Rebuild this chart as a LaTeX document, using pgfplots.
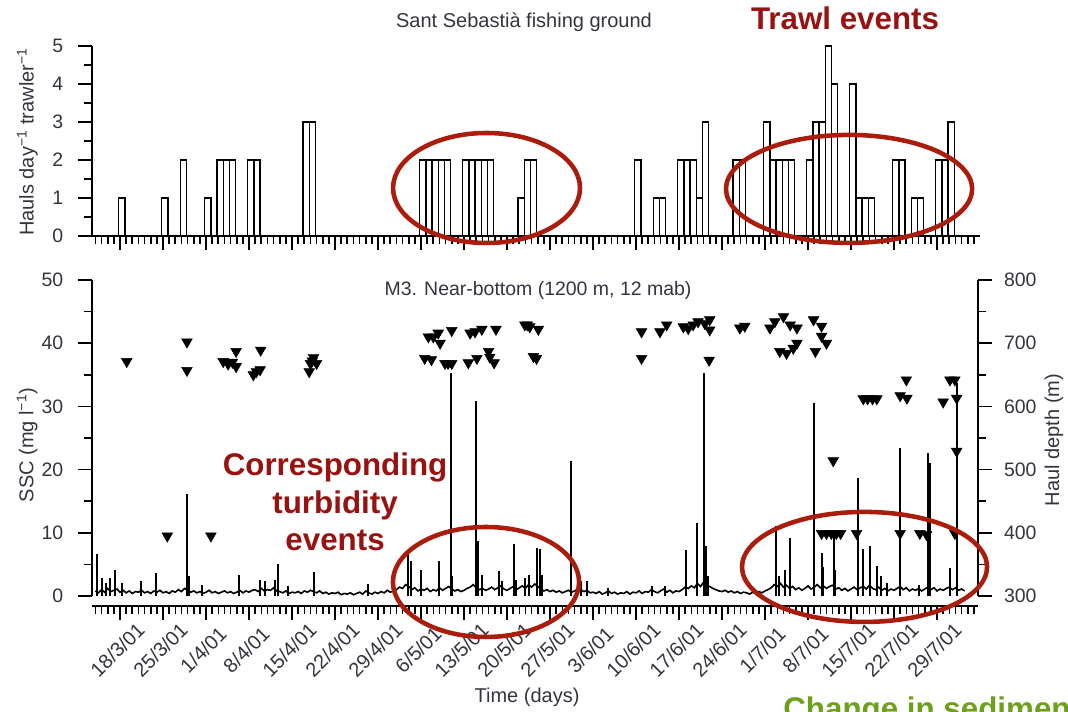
\documentclass[border=0pt]{standalone}
\usepackage{fontspec}
\setmainfont{Liberation Sans}
\usepackage{pgfplots}
\usepackage{pgfplotstable}
\pgfplotsset{compat=1.18}
\definecolor{ellred}{RGB}{170,28,12}
\definecolor{txtred}{RGB}{152,18,18}
\definecolor{txtgreen}{RGB}{110,160,30}
\definecolor{lbl}{RGB}{52,52,62}

% hauls per day per trawler (bar centre = day + 0.3, day 0 = 18/3/01)
\pgfplotstableread[row sep=\\]{
x y\\
0.3 1\\ 7.3 1\\ 10.3 2\\ 14.3 1\\ 16.3 2\\ 17.3 2\\ 18.3 2\\ 21.3 2\\ 22.3 2\\ 30.3 3\\ 31.3 3\\
49.3 2\\ 50.3 2\\ 51.3 2\\ 52.3 2\\ 53.3 2\\ 56.3 2\\ 57.3 2\\ 58.3 2\\ 59.3 2\\ 60.3 2\\
65.3 1\\ 66.3 2\\ 67.3 2\\ 84.3 2\\ 87.3 1\\ 88.3 1\\ 91.3 2\\ 92.3 2\\ 93.3 2\\ 94.3 1\\ 95.3 3\\
100.3 2\\ 101.3 2\\ 105.3 3\\ 106.3 2\\ 107.3 2\\ 108.3 2\\ 109.3 2\\ 112.3 2\\ 113.3 3\\ 114.3 3\\
115.3 5\\ 116.3 4\\ 119.3 4\\ 120.3 1\\ 121.3 1\\ 122.3 1\\ 126.3 2\\ 127.3 2\\ 129.3 1\\ 130.3 1\\
133.3 2\\ 134.3 2\\ 135.3 3\\
}\bars

% SSC background level
\pgfplotstableread[row sep=\\]{
x y\\
-4 0.8\\ -3.5 0.5\\ -3 1.0\\ -2.5 0.6\\ -2 1.2\\ -1.5 0.7\\ -1 0.9\\ -0.5 1.1\\ 0 0.6\\ 0.5 0.9\\
1 0.5\\ 1.5 0.8\\ 2 0.4\\ 2.5 0.7\\ 3 0.6\\ 3.5 0.9\\ 4 0.5\\ 4.5 0.7\\ 5 0.4\\ 5.5 0.8\\
6 0.6\\ 6.5 0.9\\ 7 0.5\\ 7.5 0.7\\ 8 0.4\\ 8.5 0.8\\ 9 0.6\\ 9.5 1.0\\ 10 0.7\\ 10.5 1.2\\
11 0.9\\ 11.5 0.6\\ 12 0.8\\ 12.5 0.5\\ 13 0.7\\ 13.5 0.4\\ 14 0.6\\ 14.5 0.9\\ 15 0.5\\ 15.5 0.7\\
16 0.4\\ 16.5 0.6\\ 17 0.8\\ 17.5 0.5\\ 18 0.7\\ 18.5 0.4\\ 19 0.6\\ 19.5 0.9\\ 20 0.5\\ 20.5 0.8\\
21 0.6\\ 21.5 0.9\\ 22 1.0\\ 22.5 0.7\\ 23 1.2\\ 23.5 0.8\\ 24 1.0\\ 24.5 0.9\\ 25 1.3\\ 25.5 0.8\\
26 0.7\\ 26.5 0.5\\ 27 0.8\\ 27.5 0.4\\ 28 0.6\\ 28.5 0.5\\ 29 0.7\\ 29.5 0.4\\ 30 0.8\\ 30.5 0.6\\
31 0.9\\ 31.5 0.7\\ 32 0.5\\ 32.5 0.8\\ 33 0.4\\ 33.5 0.6\\ 34 0.3\\ 34.5 0.5\\ 35 0.4\\ 35.5 0.6\\
36 0.2\\ 36.5 0.4\\ 37 0.3\\ 37.5 0.5\\ 38 0.2\\ 38.5 0.4\\ 39 0.6\\ 39.5 0.3\\ 40 0.8\\ 40.5 0.5\\
41 0.3\\ 41.5 0.6\\ 42 0.4\\ 42.5 0.7\\ 43 0.5\\ 43.5 0.9\\ 44 0.6\\ 44.5 0.8\\ 45 1.0\\ 45.5 1.4\\
46 1.2\\ 46.5 1.8\\ 47 1.5\\ 47.5 1.0\\ 48 1.3\\ 48.5 0.8\\ 49 1.1\\ 49.5 0.9\\ 50 1.2\\ 50.5 0.7\\
51 1.0\\ 51.5 0.8\\ 52 1.3\\ 52.5 0.9\\ 53 1.2\\ 53.5 1.5\\ 54 1.1\\ 54.5 0.8\\ 55 1.0\\ 55.5 0.7\\
56 0.9\\ 56.5 1.2\\ 57 1.4\\ 57.5 1.8\\ 58 1.3\\ 58.5 1.0\\ 59 1.2\\ 59.5 0.9\\ 60 1.1\\ 60.5 1.4\\
61 1.0\\ 61.5 1.3\\ 62 1.6\\ 62.5 1.1\\ 63 0.9\\ 63.5 1.2\\ 64 1.5\\ 64.5 1.0\\ 65 1.3\\ 65.5 1.6\\
66 1.2\\ 66.5 1.8\\ 67 1.4\\ 67.5 1.9\\ 68 1.5\\ 68.5 1.1\\ 69 0.8\\ 69.5 1.0\\ 70 0.7\\ 70.5 0.9\\
71 0.6\\ 71.5 0.8\\ 72 0.5\\ 72.5 0.7\\ 73 0.9\\ 73.5 0.6\\ 74 0.8\\ 74.5 1.1\\ 75 1.0\\ 75.5 0.7\\
76 0.9\\ 76.5 0.5\\ 77 0.6\\ 77.5 0.4\\ 78 0.7\\ 78.5 0.3\\ 79 0.5\\ 79.5 0.8\\ 80 0.4\\ 80.5 0.6\\
81 0.3\\ 81.5 0.5\\ 82 0.4\\ 82.5 0.7\\ 83 0.3\\ 83.5 0.6\\ 84 0.5\\ 84.5 0.8\\ 85 0.4\\ 85.5 0.7\\
86 0.6\\ 86.5 1.0\\ 87 0.7\\ 87.5 0.5\\ 88 0.8\\ 88.5 1.1\\ 89 0.6\\ 89.5 0.9\\ 90 0.5\\ 90.5 0.8\\
91 0.7\\ 91.5 1.0\\ 92 1.4\\ 92.5 1.2\\ 93 1.6\\ 93.5 1.3\\ 94 2.0\\ 94.5 1.5\\ 95 2.2\\ 95.5 1.7\\
96 1.5\\ 96.5 1.2\\ 97 1.0\\ 97.5 0.8\\ 98 0.7\\ 98.5 0.9\\ 99 0.6\\ 99.5 0.8\\ 100 0.5\\ 100.5 0.7\\
101 0.4\\ 101.5 0.6\\ 102 0.5\\ 102.5 0.3\\ 103 0.6\\ 103.5 0.4\\ 104 0.7\\ 104.5 0.5\\ 105 0.8\\ 105.5 1.0\\
106 1.3\\ 106.5 1.8\\ 107 1.5\\ 107.5 2.0\\ 108 1.4\\ 108.5 1.7\\ 109 1.2\\ 109.5 1.5\\ 110 1.0\\ 110.5 1.3\\
111 0.9\\ 111.5 1.2\\ 112 1.6\\ 112.5 1.1\\ 113 1.4\\ 113.5 1.8\\ 114 1.3\\ 114.5 1.6\\ 115 1.2\\ 115.5 1.5\\
116 1.7\\ 116.5 1.1\\ 117 1.3\\ 117.5 0.9\\ 118 1.2\\ 118.5 0.8\\ 119 1.1\\ 119.5 1.4\\ 120 1.0\\ 120.5 1.3\\
121 1.5\\ 121.5 1.1\\ 122 1.7\\ 122.5 1.2\\ 123 1.0\\ 123.5 1.4\\ 124 0.9\\ 124.5 1.2\\ 125 0.8\\ 125.5 1.1\\
126 0.9\\ 126.5 1.2\\ 127 1.5\\ 127.5 1.0\\ 128 1.3\\ 128.5 0.8\\ 129 1.1\\ 129.5 0.9\\ 130 1.2\\ 130.5 0.8\\
131 1.1\\ 131.5 1.4\\ 132 1.0\\ 132.5 1.3\\ 133 0.8\\ 133.5 1.1\\ 134 0.9\\ 134.5 1.2\\ 135 1.4\\ 135.5 1.0\\
136 1.3\\ 136.5 0.9\\ 137 1.1\\ 137.5 0.8\\
}\base

% SSC peaks
\pgfplotstableread[row sep=\\]{
x y\\
-3.7 6.5\\ -3.0 2.8\\ -2.3 2.0\\ -1.6 2.8\\ -0.8 4.1\\ 0.4 2.0\\ 3.4 2.3\\ 5.9 3.6\\ 10.9 16.0\\ 11.2 3.0\\
13.3 1.7\\ 19.3 3.2\\ 22.8 2.5\\ 23.6 2.3\\ 25.2 2.5\\ 25.7 4.9\\ 27.4 1.5\\ 31.5 3.7\\ 40.4 1.8\\
46.9 6.5\\ 47.4 5.5\\ 49.0 4.0\\ 51.9 5.4\\ 53.8 35.2\\ 54.1 3.0\\ 58.0 30.7\\ 58.3 8.6\\ 58.9 3.3\\
61.7 3.8\\ 62.2 2.3\\ 64.1 8.1\\ 64.5 2.5\\ 65.9 2.8\\ 66.5 3.3\\ 67.8 7.5\\ 68.3 7.3\\ 68.7 3.3\\
73.4 21.2\\ 75.1 2.3\\ 76.0 2.3\\ 79.5 1.2\\ 86.6 1.5\\ 88.7 1.5\\ 92.1 7.2\\ 93.9 11.5\\ 95.1 35.2\\
95.4 7.8\\ 95.7 3.0\\ 106.8 11.0\\ 107.2 3.0\\ 108.3 4.1\\ 109.0 9.1\\ 113.0 30.5\\ 114.2 6.7\\
114.5 4.5\\ 116.2 10.4\\ 116.4 4.1\\ 120.1 18.6\\ 121.0 7.3\\ 122.1 7.8\\ 123.3 4.6\\ 123.9 3.0\\
124.9 2.0\\ 127.0 23.4\\ 130.0 1.7\\ 131.5 22.6\\ 131.9 21.0\\ 135.1 4.4\\ 136.2 33.6\\
}\peaks

% haul depths (m)
\pgfplotstableread[row sep=\\]{
x d\\
1.1 671\\ 7.7 395\\ 10.9 702\\ 10.9 657\\ 14.8 395\\ 16.8 671\\ 17.6 667\\ 18.3 670\\ 18.9 687\\ 18.9 663\\
21.7 650\\ 22.2 655\\ 22.8 658\\ 22.9 689\\ 30.8 655\\ 31.0 668\\ 31.3 672\\ 31.5 677\\ 32.0 668\\
49.6 676\\ 50.2 710\\ 50.7 674\\ 51.0 710\\ 51.8 716\\ 52.1 700\\ 52.9 668\\ 53.4 668\\ 54.0 668\\ 54.0 720\\
56.7 669\\ 57.0 716\\ 57.8 718\\ 58.1 676\\ 58.9 722\\ 60.0 687\\ 60.2 678\\ 60.9 669\\ 61.2 722\\
65.9 729\\ 66.3 729\\ 66.7 726\\ 67.3 679\\ 67.8 676\\ 68.1 722\\
84.9 718\\ 84.9 676\\ 87.9 718\\ 89.0 729\\ 91.7 726\\ 92.5 723\\ 93.3 729\\ 94.1 734\\ 95.2 731\\
96.0 737\\ 96.0 721\\ 95.9 673\\ 100.9 724\\ 101.7 727\\ 105.8 724\\ 106.6 734\\ 107.4 687\\ 108.0 742\\
108.5 684\\ 109.1 729\\ 109.6 692\\ 110.2 724\\ 110.2 700\\ 112.9 737\\ 113.2 687\\ 114.2 727\\ 114.2 711\\
115.0 700\\ 116.1 514\\ 114.2 399\\ 115.0 399\\ 115.8 399\\ 116.6 399\\ 117.3 399\\ 119.9 399\\
121.0 612\\ 121.7 612\\ 122.5 612\\ 123.2 612\\ 127.0 617\\ 128.0 642\\ 128.1 613\\ 127.0 399\\
130.2 399\\ 131.3 397\\ 134.0 607\\ 135.1 642\\ 135.9 642\\ 136.2 613\\ 136.2 529\\ 135.9 399\\
}\depth

\pgfplotsset{
  every axis/.append style={
    scale only axis,
    enlargelimits=false,
    /pgf/number format/assume math mode=true,
    tick label style={font=\fontsize{14.6}{17}\selectfont, text=lbl},
    tick style={line width=1.2pt, black},
    major tick length=10.5pt,
    minor tick length=6pt,
  },
  myaxlines/.style={
    axis line style={-, line width=1.2pt},
    x axis line style={-},
    y axis line style={-},
    tick align=outside,
  },
}

\begin{document}
\begin{tikzpicture}[x=1pt,y=1pt]
\useasboundingbox (0,0) rectangle (801,534);

% ---------- top panel ----------
\begin{axis}[
  at={(69pt,357pt)}, anchor=south west,
  width=666pt, height=142.5pt,
  xmin=-4.56, xmax=140.0, ymin=0, ymax=5,
  axis x line=bottom, axis y line=left,
  myaxlines,
  xtick={0,7,...,133}, minor xtick={-4,-3,...,139},
  xticklabels={},
  ytick={0,1,...,5}, minor ytick={0.5,1.5,...,4.5},
  yticklabel style={xshift=-7.5pt},
]
\addplot[ybar, bar width=1, bar shift=0pt, draw=black, fill=white, line width=0.9pt]
  table[x=x, y=y] {\bars};
\end{axis}

% ---------- bottom panel, SSC ----------
\begin{axis}[
  at={(69pt,87pt)}, anchor=south west,
  width=664.5pt, height=237pt,
  xmin=-4.56, xmax=139.67, ymin=0, ymax=50,
  axis x line=bottom, axis y line=left,
  myaxlines,
  axis x line shift=7.5pt,
  xtick={0,7,...,133}, minor xtick={-4,-3,...,139},
  xticklabels={18/3/01,25/3/01,1/4/01,8/4/01,15/4/01,22/4/01,29/4/01,6/5/01,13/5/01,20/5/01,27/5/01,3/6/01,10/6/01,17/6/01,24/6/01,1/7/01,8/7/01,15/7/01,22/7/01,29/7/01},
  xticklabel style={anchor=center, xshift=-2pt, yshift=-22.5pt, rotate=45, font=\fontsize{15}{18}\selectfont},
  ytick={0,10,...,50}, minor ytick={5,15,...,45},
  yticklabel style={xshift=-7.5pt},
]
\addplot[black, line width=1.2pt, no markers] table[x=x, y=y] {\base};
\addplot[ybar, bar width=0.15, bar shift=0pt, draw=black, fill=black, line width=0.8pt]
  table[x=x, y=y] {\peaks};
\end{axis}

% ---------- bottom panel, haul depth ----------
\begin{axis}[
  at={(69pt,87pt)}, anchor=south west,
  width=664.5pt, height=237pt,
  xmin=-4.56, xmax=139.67, ymin=300, ymax=800,
  axis y line=right, axis x line=none,
  myaxlines,
  ytick={300,400,...,800}, minor ytick={350,450,...,750},
  yticklabel style={xshift=5.5pt},
  clip=false,
]
\addplot[only marks, mark=triangle*, mark size=4.6pt, mark options={rotate=180, fill=black, draw=black}]
  table[x=x, y=d] {\depth};
\end{axis}

% ---------- texts ----------
\node[text=lbl, font=\fontsize{15}{18}\selectfont] at (393,517.5) {Sant Sebastià fishing ground};
\node[text=lbl, font=\fontsize{14.6}{18}\selectfont] at (403.5,316.5) {M3. Near-bottom (1200 m, 12 mab)};
\node[text=lbl, font=\fontsize{15}{18}\selectfont, rotate=90] at (20.6,427.5) {Hauls day\textsuperscript{−1} trawler\textsuperscript{−1}};
\node[text=lbl, font=\fontsize{15}{18}\selectfont, rotate=90] at (20.3,200.3) {SSC (mg l\textsuperscript{−1})};
\node[text=lbl, font=\fontsize{15}{18}\selectfont, rotate=90] at (790.5,204) {Haul depth (m)};
\node[text=lbl, font=\fontsize{15}{18}\selectfont] at (395.3,11) {Time (days)};

\node[text=txtred, font=\bfseries\fontsize{23.5}{28}\selectfont] at (633.8,520.5) {Trawl events};
\node[text=txtred, font=\bfseries\fontsize{23.5}{28.1}\selectfont, align=center] at (251.3,157.5)
  {Corresponding\\turbidity\\events};
\node[text=txtgreen, font=\bfseries\fontsize{23.5}{28}\selectfont, anchor=base west, inner sep=0pt] at (587.3,-5.6)
  {Change in sediment};

% ---------- ellipses ----------
\draw[ellred, line width=3.4pt] (364.9,393) ellipse [x radius=70.1, y radius=41.25];
\draw[ellred, line width=3.4pt] (636.8,392.3) ellipse [x radius=92.3, y radius=40.5];
\draw[ellred, line width=3.4pt] (364.5,97.5) ellipse [x radius=69.8, y radius=41.25];
\draw[ellred, line width=3.4pt] (648.4,108.8) ellipse [x radius=91.9, y radius=41.25];
\end{tikzpicture}
\end{document}
